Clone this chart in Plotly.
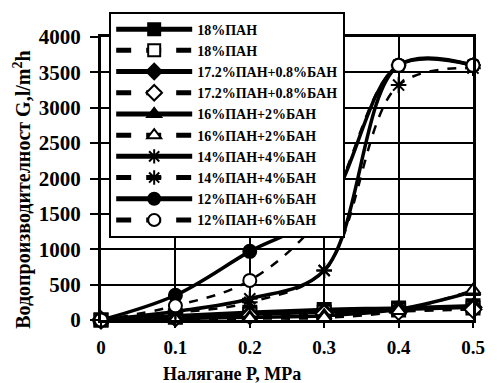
import plotly.graph_objects as go

x = [0, 0.1, 0.2, 0.3, 0.4, 0.5]
x_labels = ["0", "0.1", "0.2", "0.3", "0.4", "0.5"]
y_ticks = [0, 500, 1000, 1500, 2000, 2500, 3000, 3500, 4000]

names = ["18%ПАН", "18%ПАН", "17.2%ПАН+0.8%БАН", "17.2%ПАН+0.8%БАН",
         "16%ПАН+2%БАН", "16%ПАН+2%БАН", "14%ПАН+4%БАН", "14%ПАН+4%БАН",
         "12%ПАН+6%БАН", "12%ПАН+6%БАН"]

s18_solid = [0, 60, 110, 150, 170, 200]
s18_dash = [0, 40, 80, 110, 140, 170]
s172_solid = [0, 40, 80, 110, 150, 180]
s172_dash = [0, 30, 60, 90, 120, 150]
s16_solid = [0, 20, 40, 60, 150, 400]
s16_dash = [0, 10, 20, 30, 130, 420]
s14_solid = [0, 120, 300, 700, 3600, 3600]
s14_dash = [0, 100, 250, 700, 3320, 3560]
s12_solid = [0, 350, 970, 1550, 3600, 3600]
s12_dash = [0, 200, 560, 1510, 3600, 3600]

series = [s18_solid, s18_dash, s172_solid, s172_dash, s16_solid, s16_dash,
          s14_solid, s14_dash, s12_solid, s12_dash]
symbols = ["square", "square", "diamond", "diamond", "triangle-up",
           "triangle-up", "asterisk", "asterisk", "circle", "circle"]

x_title = "Налягане P, MPa"
y_title = "Водопроизводителност G,l/m<sup>2</sup>h"

FF = "Times New Roman, Liberation Serif, serif"

fig = go.Figure()
for i, (nm, ys, sym) in enumerate(zip(names, series, symbols)):
    solid = i % 2 == 0
    if sym == "asterisk":
        marker = dict(symbol="asterisk", size=13, line=dict(color="black", width=2))
    else:
        marker = dict(symbol=sym, size=13, color="black" if solid else "white",
                      line=dict(color="black", width=2))
    fig.add_trace(go.Scatter(
        x=x, y=ys, name="<b>" + nm + "</b>", mode="lines+markers", cliponaxis=False,
        line=dict(color="black", width=3.5 if solid else 2.5,
                  dash="solid" if solid else "dash", shape="spline", smoothing=1),
        marker=marker,
    ))

fig.update_layout(
    width=497, height=383,
    margin=dict(l=101, r=16, t=37, b=63),
    plot_bgcolor="white", paper_bgcolor="white",
    font=dict(family=FF, color="black", size=16),
    showlegend=True,
    legend=dict(x=0.022, y=1.09, xanchor="left", yanchor="top",
                bgcolor="white", bordercolor="black", borderwidth=2,
                font=dict(family=FF, size=14, color="black"),
                tracegroupgap=0, itemwidth=76, maxheight=400,
                itemsizing="constant"),
    xaxis=dict(range=[0, 0.5], tickvals=x, ticktext=["<b>" + t + "</b>" for t in x_labels],
               showgrid=True, gridcolor="black", gridwidth=2,
               showline=True, linecolor="black", linewidth=3, mirror=True,
               ticks="outside", ticklen=5, tickwidth=2, tickcolor="black",
               zeroline=False, ticklabelstandoff=3,
               tickfont=dict(family=FF, size=19, color="black")),
    yaxis=dict(range=[0, 4000], tickvals=y_ticks,
               ticktext=["<b>" + str(v) + "</b>" for v in y_ticks],
               showgrid=True, gridcolor="black", gridwidth=2,
               showline=True, linecolor="black", linewidth=3, mirror=True,
               ticks="outside", ticklen=8, tickwidth=2, tickcolor="black",
               zeroline=False, ticklabelstandoff=5,
               tickfont=dict(family=FF, size=21, color="black")),
    annotations=[
        dict(text="<b>" + x_title + "</b>", xref="paper", yref="paper",
             x=0.353, y=-0.19, xanchor="center", yanchor="middle", showarrow=False,
             font=dict(family=FF, size=18, color="black")),
        dict(text="<b>" + y_title + "</b>", xref="paper", yref="paper",
             x=-0.213, y=0.459, xanchor="center", yanchor="middle", showarrow=False,
             textangle=-90, font=dict(family=FF, size=20, color="black")),
    ],
)

fig.write_html("out.html")
